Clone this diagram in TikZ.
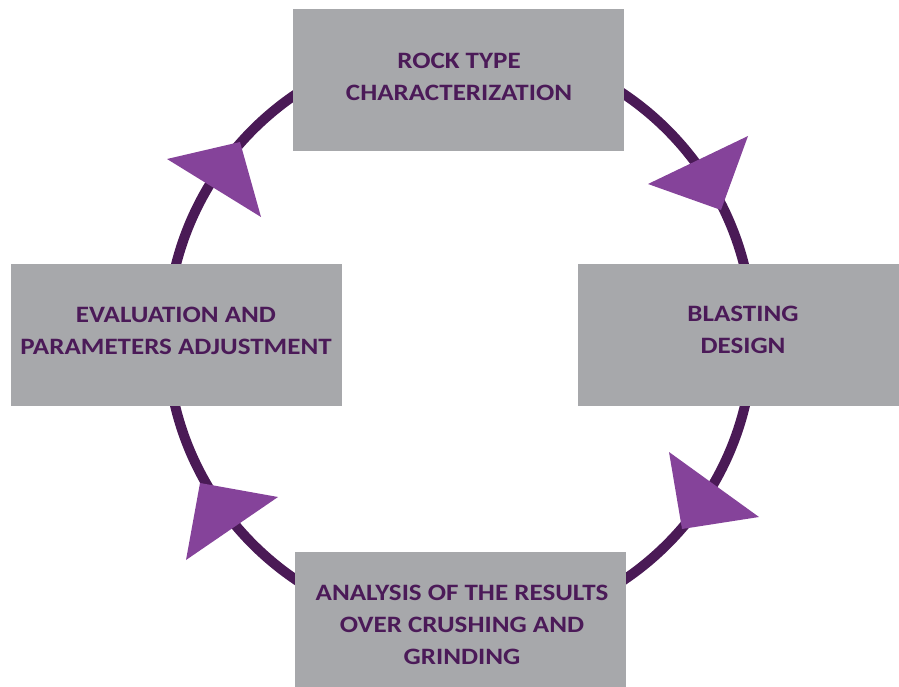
\documentclass[tikz,border=0pt]{standalone}
\usepackage{fontspec}
\setmainfont{Carlito}
\newfontfamily\stagefont{Carlito}[FakeStretch=1.15]
\definecolor{ringc}{HTML}{4A1A56}
\definecolor{tric}{HTML}{85439A}
\definecolor{boxc}{HTML}{A7A8AB}
\definecolor{txtc}{HTML}{4B1A58}
\begin{document}
\begin{tikzpicture}[x=1pt,y=-1pt,
  stagebox/.style={draw=none,fill=boxc,inner sep=0pt,anchor=north west},
  stagetext/.style={inner sep=0pt,align=center,text=txtc,font=\stagefont\fontsize{23.5}{32}\selectfont\bfseries},
  ring/.style={draw=ringc,line width=10pt},
  tri/.style={fill=tric,draw=none}]
\useasboundingbox (0,0) rectangle (899,687);
\coordinate (ctr) at (460,337);
\draw[ring] (ctr) circle[radius=293pt];
% boxes
\node[stagebox,minimum width=331pt,minimum height=142pt] (rock) at (293,9) {};
\node[stagebox,minimum width=331pt,minimum height=142pt] (eval) at (11,264) {};
\node[stagebox,minimum width=321pt,minimum height=142pt] (blast) at (578,264) {};
\node[stagebox,minimum width=331pt,minimum height=135pt] (anal) at (295,552) {};
% texts
\node[stagetext] (rockt) at (459,76.5) {ROCK TYPE\\CHARACTERIZATION};
\node[stagetext] (evalt) at (176,331) {EVALUATION AND\\PARAMETERS ADJUSTMENT};
\node[stagetext] (blastt) at (743,330) {BLASTING\\DESIGN};
\node[stagetext] (analt) at (462,625) {ANALYSIS OF THE RESULTS\\OVER CRUSHING AND\\GRINDING};
% triangles
\fill[tri] (167,159) -- (240,142) -- (261,217) -- cycle;
\fill[tri] (648,184) -- (748,136) -- (721,210) -- cycle;
\fill[tri] (669,452) -- (759,517) -- (682,529) -- cycle;
\fill[tri] (200,483) -- (278,497) -- (186,560) -- cycle;
\end{tikzpicture}
\end{document}
